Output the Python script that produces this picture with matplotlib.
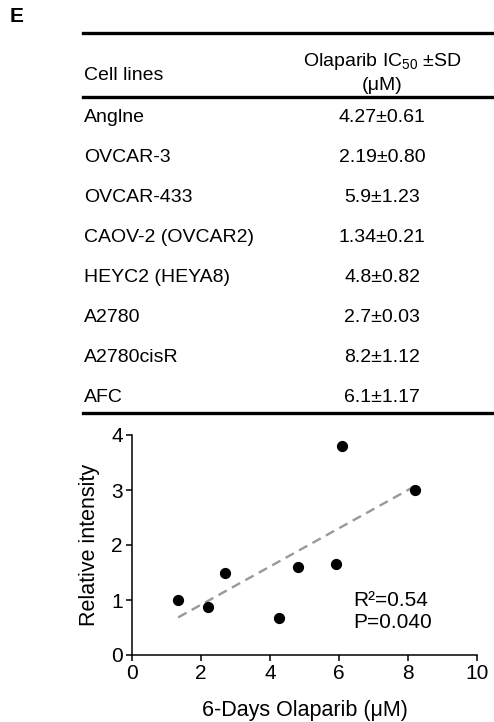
import numpy as np
import matplotlib
matplotlib.use("Agg")
import matplotlib.pyplot as plt
from matplotlib.lines import Line2D

plt.rcParams['font.family'] = ['Liberation Sans', 'DejaVu Sans']
plt.rcParams['mathtext.fontset'] = 'custom'
plt.rcParams['mathtext.rm'] = 'Liberation Sans'

# table data
cell_lines = ["Anglne", "OVCAR-3", "OVCAR-433", "CAOV-2 (OVCAR2)",
              "HEYC2 (HEYA8)", "A2780", "A2780cisR", "AFC"]
ic50 = ["4.27", "2.19", "5.9", "1.34", "4.8", "2.7", "8.2", "6.1"]
ic50_sd = ["0.61", "0.80", "1.23", "0.21", "0.82", "0.03", "1.12", "1.17"]

# scatter data (IC50 vs relative intensity)
olaparib = [1.34, 2.19, 2.7, 4.27, 4.8, 5.9, 6.1, 8.2]
rel_intensity = [1.0, 0.87, 1.5, 0.67, 1.6, 1.65, 3.8, 3.0]

W, H = 494, 722
fig = plt.figure(figsize=(W / 100, H / 100), dpi=100)


def fx(px):
    return px / W


def fy(py):
    return 1 - py / H


# panel letter
fig.text(fx(10), fy(16), "E", fontsize=15, fontweight='bold', va='center')

# table rules
for y in [33, 97, 413]:
    fig.add_artist(Line2D([fx(83), fx(494)], [fy(y), fy(y)], color='black', lw=2.4))

# header
fig.text(fx(84), fy(76), "Cell lines", fontsize=14, va='center')
fig.text(fx(382), fy(62), "Olaparib IC$_{50}$ ±SD", fontsize=14, va='center', ha='center')
fig.text(fx(382), fy(86), "(μM)", fontsize=14, va='center', ha='center')

# rows
row_y = np.linspace(118, 397, len(cell_lines))
for name, m, sd, y in zip(cell_lines, ic50, ic50_sd, row_y):
    fig.text(fx(84), fy(y), name, fontsize=14, va='center')
    fig.text(fx(382), fy(y), m + "±" + sd, fontsize=14, va='center', ha='center')

# scatter plot
ax = fig.add_axes([fx(132), fy(655), fx(477 - 132), (655 - 435) / H])
ax.scatter(olaparib, rel_intensity, s=50, color='black', zorder=3)

slope, intercept = np.polyfit(olaparib, rel_intensity, 1)
xs = np.array([min(olaparib), max(olaparib)])
ax.plot(xs, slope * xs + intercept, '--', color='#999999', lw=1.7, dashes=(4, 2.5))

ax.set_xlim(0, 10)
ax.set_ylim(0, 4)
ax.set_xticks([0, 2, 4, 6, 8, 10])
ax.set_yticks([0, 1, 2, 3, 4])
for side in ['top', 'right']:
    ax.spines[side].set_visible(False)
for side in ['left', 'bottom']:
    ax.spines[side].set_linewidth(1.1)
ax.tick_params(direction='out', length=4.5, width=1.1, labelsize=15, pad=2)
ax.set_xlabel("6-Days Olaparib (μM)", fontsize=15.5, labelpad=12)
ax.set_ylabel("Relative intensity", fontsize=15.5, labelpad=8)

ax.text(6.4, 1.0, "R²=0.54", fontsize=15, va='center')
ax.text(6.4, 0.6, "P=0.040", fontsize=15, va='center')

fig.savefig("out.png", dpi=100)
